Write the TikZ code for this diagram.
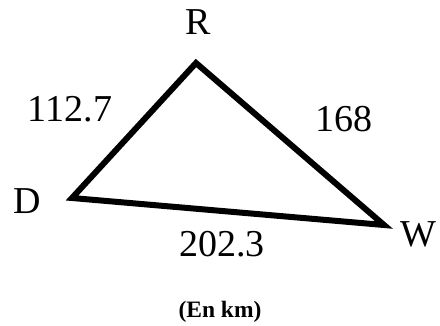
\documentclass[tikz,border=0pt]{standalone}
\usepackage{fontspec}
\setmainfont{Liberation Serif}
\begin{document}
\begin{tikzpicture}[x=1pt,y=-1pt,
  lbl/.style={inner sep=0pt,anchor=base,font=\fontsize{38}{40}\selectfont},
  unit/.style={inner sep=0pt,anchor=base,font=\fontsize{23.5}{25}\selectfont\bfseries},
  side/.style={line width=6pt,line join=miter}]
\useasboundingbox (0,0) rectangle (440,326);
\coordinate (R) at (196,63);
\coordinate (D) at (72,198);
\coordinate (W) at (384,225);
\draw[side] (R) -- (W) -- (D) -- cycle;
\node[lbl] (lR) at (198,35) {R};
\node[lbl] (lD) at (27.5,214) {D};
\node[lbl] (lW) at (418,247) {W};
\node[lbl] (dRD) at (70,122) {112.7};
\node[lbl] (dRW) at (344,132) {168};
\node[lbl] (dDW) at (222,257) {202.3};
\node[unit] (u) at (220,318) {(En km)};
\end{tikzpicture}
\end{document}
